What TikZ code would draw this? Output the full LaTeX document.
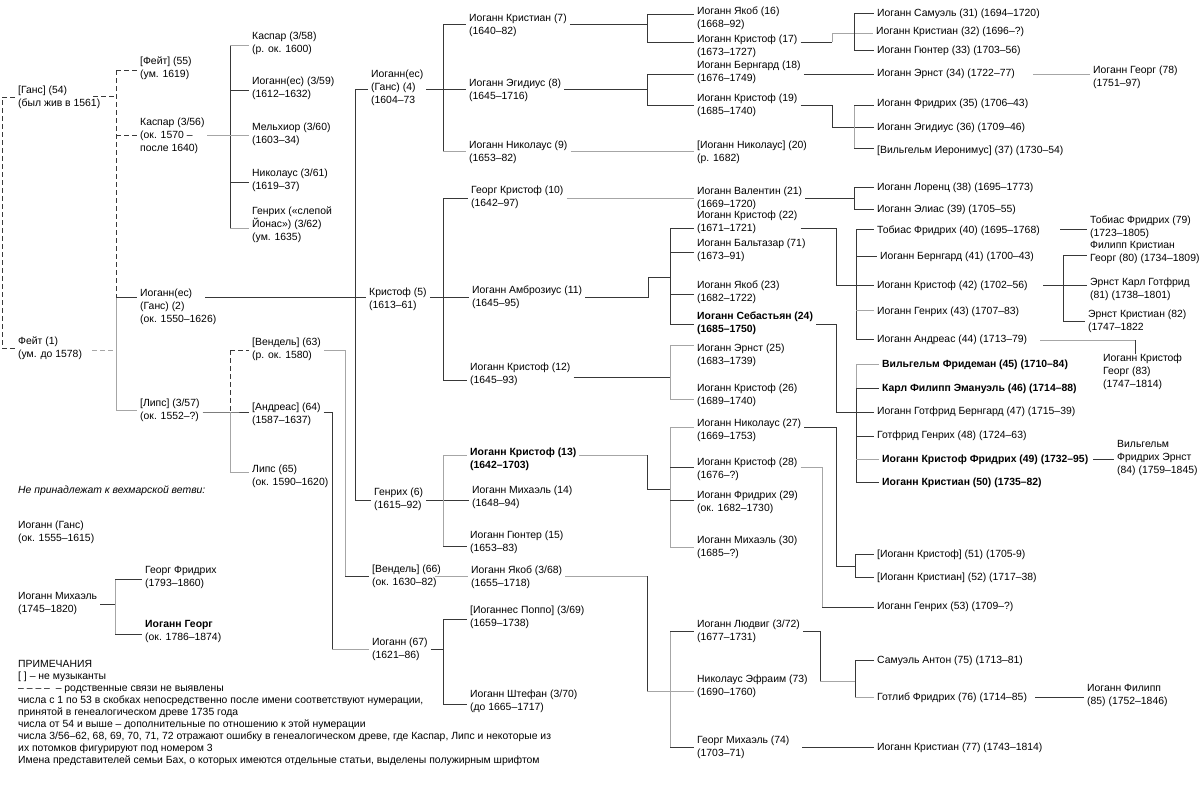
\documentclass[tikz,border=0pt]{standalone}
\usepackage{fontspec}
\setmainfont{Liberation Sans}
\usetikzlibrary{calc}
\begin{document}
\begin{tikzpicture}[x=1pt,y=-1pt,
  dk/.style={draw=black!78, line width=0.9pt},
  lt/.style={draw=black!35, line width=0.9pt},
  dsh/.style={dash pattern=on 5pt off 3pt},
  p/.style={anchor=north west, inner xsep=3pt, inner ysep=0pt, align=left, xshift=-3pt, yshift=6.5pt,
    font=\fontsize{10.4}{13}\selectfont, execute at begin node={\rule{0pt}{10pt}}},
  b/.style={p, font=\fontsize{10.4}{13}\selectfont\bfseries}]
\useasboundingbox (0,0) rectangle (1200,785);
\fill[white] (0,0) rectangle (1200,785);

% ---------- nodes ----------
\node[p] (n54) at (18,92) {[Ганс] (54)\\(был жив в 1561)};
\node[p] (n1) at (18,343) {Фейт (1)\\(ум. до 1578)};

\node[p] (n55) at (140,63) {[Фейт] (55)\\(ум. 1619)};
\node[p] (n56) at (140,124) {Каспар (3/56)\\(ок. 1570 –\\после 1640)};
\node[p] (n2) at (140,295) {Иоганн(ес)\\(Ганс) (2)\\(ок. 1550–1626)};
\node[p] (n57) at (140,405) {[Липс] (3/57)\\(ок. 1552–?)};

\node[p] (n58) at (252,38) {Каспар (3/58)\\(р. ок. 1600)};
\node[p] (n59) at (252,83) {Иоганн(ес) (3/59)\\(1612–1632)};
\node[p] (n60) at (252,129) {Мельхиор (3/60)\\(1603–34)};
\node[p] (n61) at (252,175) {Николаус (3/61)\\(1619–37)};
\node[p] (n62) at (252,213) {Генрих («слепой\\Йонас») (3/62)\\(ум. 1635)};
\node[p] (n63) at (252,344) {[Вендель] (63)\\(р. ок. 1580)};
\node[p] (n64) at (252,409) {[Андреас] (64)\\(1587–1637)};
\node[p] (n65) at (252,471) {Липс (65)\\(ок. 1590–1620)};

\node[p] (n4) at (371,76) {Иоганн(ес)\\(Ганс) (4)\\(1604–73};
\node[p] (n5) at (369,294) {Кристоф (5)\\(1613–61)};
\node[p] (n6) at (374,494) {Генрих (6)\\(1615–92)};
\node[p] (n66) at (372,571) {[Вендель] (66)\\(ок. 1630–82)};
\node[p] (n67) at (372,644) {Иоганн (67)\\(1621–86)};

\node[p] (n7) at (469,20) {Иоганн Кристиан (7)\\(1640–82)};
\node[p] (n8) at (469,85) {Иоганн Эгидиус (8)\\(1645–1716)};
\node[p] (n9) at (469,147) {Иоганн Николаус (9)\\(1653–82)};
\node[p] (n10) at (471,192) {Георг Кристоф (10)\\(1642–97)};
\node[p] (n11) at (472,292) {Иоганн Амброзиус (11)\\(1645–95)};
\node[p] (n12) at (470,369) {Иоганн Кристоф (12)\\(1645–93)};
\node[b] (n13) at (470,454) {Иоганн Кристоф (13)\\(1642–1703)};
\node[p] (n14) at (472,492) {Иоганн Михаэль (14)\\(1648–94)};
\node[p] (n15) at (470,537) {Иоганн Гюнтер (15)\\(1653–83)};
\node[p] (n68) at (471,572) {Иоганн Якоб (3/68)\\(1655–1718)};
\node[p] (n69) at (470,612) {[Иоганнес Поппо] (3/69)\\(1659–1738)};
\node[p] (n70) at (470,696) {Иоганн Штефан (3/70)\\(до 1665–1717)};

\node[p] (n16) at (697,13) {Иоганн Якоб (16)\\(1668–92)};
\node[p] (n17) at (697,41) {Иоганн Кристоф (17)\\(1673–1727)};
\node[p] (n18) at (697,67) {Иоганн Бернгард (18)\\(1676–1749)};
\node[p] (n19) at (697,100) {Иоганн Кристоф (19)\\(1685–1740)};
\node[p] (n20) at (697,147) {[Иоганн Николаус] (20)\\(р. 1682)};
\node[p] (n21) at (697,193) {Иоганн Валентин (21)\\(1669–1720)};
\node[p] (n22) at (697,217) {Иоганн Кристоф (22)\\(1671–1721)};
\node[p] (n71) at (697,245) {Иоганн Бальтазар (71)\\(1673–91)};
\node[p] (n23) at (697,287) {Иоганн Якоб (23)\\(1682–1722)};
\node[b] (n24) at (697,318) {Иоганн Себастьян (24)\\(1685–1750)};
\node[p] (n25) at (697,350) {Иоганн Эрнст (25)\\(1683–1739)};
\node[p] (n26) at (697,390) {Иоганн Кристоф (26)\\(1689–1740)};
\node[p] (n27) at (697,425) {Иоганн Николаус (27)\\(1669–1753)};
\node[p] (n28) at (697,464) {Иоганн Кристоф (28)\\(1676–?)};
\node[p] (n29) at (697,497) {Иоганн Фридрих (29)\\(ок. 1682–1730)};
\node[p] (n30) at (697,542) {Иоганн Михаэль (30)\\(1685–?)};
\node[p] (n72) at (697,626) {Иоганн Людвиг (3/72)\\(1677–1731)};
\node[p] (n73) at (697,681) {Николаус Эфраим (73)\\(1690–1760)};
\node[p] (n74) at (697,742) {Георг Михаэль (74)\\(1703–71)};

\node[p] (n31) at (877,13) {Иоганн Самуэль (31) (1694–1720)};
\node[p] (n32) at (876,31) {Иоганн Кристиан (32) (1696–?)};
\node[p] (n33) at (877,50) {Иоганн Гюнтер (33) (1703–56)};
\node[p] (n34) at (877,73) {Иоганн Эрнст (34) (1722–77)};
\node[p] (n35) at (877,103) {Иоганн Фридрих (35) (1706–43)};
\node[p] (n36) at (877,127) {Иоганн Эгидиус (36) (1709–46)};
\node[p] (n37) at (877,150) {[Вильгельм Иеронимус] (37) (1730–54)};
\node[p] (n38) at (877,187) {Иоганн Лоренц (38) (1695–1773)};
\node[p] (n39) at (877,209) {Иоганн Элиас (39) (1705–55)};
\node[p] (n40) at (877,230) {Тобиас Фридрих (40) (1695–1768)};
\node[p] (n41) at (880,256) {Иоганн Бернгард (41) (1700–43)};
\node[p] (n42) at (877,285) {Иоганн Кристоф (42) (1702–56)};
\node[p] (n43) at (877,311) {Иоганн Генрих (43) (1707–83)};
\node[p] (n44) at (877,339) {Иоганн Андреас (44) (1713–79)};
\node[b] (n45) at (882,364) {Вильгельм Фридеман (45) (1710–84)};
\node[b] (n46) at (882,388) {Карл Филипп Эмануэль (46) (1714–88)};
\node[p] (n47) at (877,411) {Иоганн Готфрид Бернгард (47) (1715–39)};
\node[p] (n48) at (877,435) {Готфрид Генрих (48) (1724–63)};
\node[b] (n49) at (882,459) {Иоганн Кристоф Фридрих (49) (1732–95)};
\node[b] (n50) at (882,482) {Иоганн Кристиан (50) (1735–82)};
\node[p] (n51) at (877,554) {[Иоганн Кристоф] (51) (1705-9)};
\node[p] (n52) at (877,577) {[Иоганн Кристиан] (52) (1717–38)};
\node[p] (n53) at (877,606) {Иоганн Генрих (53) (1709–?)};
\node[p] (n75) at (877,660) {Самуэль Антон (75) (1713–81)};
\node[p] (n76) at (877,697) {Готлиб Фридрих (76) (1714–85)};
\node[p] (n77) at (877,747) {Иоганн Кристиан (77) (1743–1814)};

\node[p] (n78) at (1093,72) {Иоганн Георг (78)\\(1751–97)};
\node[p] (n79) at (1090,222) {Тобиас Фридрих (79)\\(1723–1805)};
\node[p] (n80) at (1090,248) {Филипп Кристиан\\Георг (80) (1734–1809)};
\node[p] (n81) at (1090,284) {Эрнст Карл Готфрид\\(81) (1738–1801)};
\node[p] (n82) at (1088,316) {Эрнст Кристиан (82)\\(1747–1822};
\node[p] (n83) at (1103,360) {Иоганн Кристоф\\Георг (83)\\(1747–1814)};
\node[p] (n84) at (1117,447) {Вильгельм\\Фридрих Эрнст\\(84) (1759–1845)};
\node[p] (n85) at (1087,691) {Иоганн Филипп\\(85) (1752–1846)};

\node[p, font=\fontsize{10.4}{13}\selectfont\itshape] (nb) at (18,490) {Не принадлежат к вехмарской ветви:};
\node[p] (nJG) at (18,527) {Иоганн (Ганс)\\(ок. 1555–1615)};
\node[p] (nM) at (18,599) {Иоганн Михаэль\\(1745–1820)};
\node[p] (nGF) at (145,573) {Георг Фридрих\\(1793–1860)};
\node[p] (nIG) at (145,627) {\textbf{Иоганн Георг}\\(ок. 1786–1874)};

\node[p, font=\fontsize{10.4}{12}\selectfont] (notes) at (18,667) {ПРИМЕЧАНИЯ\\{}[ ] – не музыканты\\– – – – \ – родственные связи не выявлены\\числа с 1 по 53 в скобках непосредственно после имени соответствуют нумерации,\\принятой в генеалогическом древе 1735 года\\числа от 54 и выше – дополнительные по отношению к этой нумерации\\числа 3/56–62, 68, 69, 70, 71, 72 отражают ошибку в генеалогическом древе, где Каспар, Липс и некоторые из\\их потомков фигурируют под номером 3\\Имена представителей семьи Бах, о которых имеются отдельные статьи, выделены полужирным шрифтом};

% ---------- connectors ----------
\coordinate (L) at (2,0);
\draw[dk,dsh] (n54.west) -- (n54.west -| L) -- (n1.west -| L) -- (n1.west);

\draw[dk,dsh] (93,96) -- (116,96);
\draw[dk,dsh] (116,70) -- (116,297);
\draw[lt] (116,297) -- (116,410);
\draw[dk,dsh] (116,70) -- (n55.west |- 0,70);
\draw[dk,dsh] (116,135) -- (n56.west |- 0,135);
\draw[dk] (116,297) -- (n2.west |- 0,297);
\draw[lt] (116,410) -- (n57.west |- 0,410);
\draw[lt,dsh] (92,350) -- (116,350);

\draw[lt] (207,135) -- (230,135);
\draw[dk] (230,45) -- (230,228);
\draw[lt] (230,45) -- (n58.west |- 0,45);
\draw[dk] (230,90) -- (n59.west |- 0,90);
\draw[lt] (230,135) -- (n60.west |- 0,135);
\draw[dk] (230,182) -- (n61.west |- 0,182);
\draw[lt] (230,228) -- (n62.west |- 0,228);

\draw[dk] (n57.east |- 0,412) -- (230,412) -- (n64.west |- 0,412);
\draw[dk,dsh] (230,350) -- (230,412);
\draw[lt] (230,412) -- (230,472);
\draw[dk,dsh] (230,350) -- (n63.west |- 0,350);
\draw[lt] (230,472) -- (n65.west |- 0,472);

\draw[lt] (n63.east |- 0,350) -- (345,350) -- (345,576);
\draw[dk] (345,576) -- (n66.west |- 0,576);
\draw[dk] (n64.east |- 0,412) -- (332,412) -- (332,649);
\draw[lt] (332,649) -- (n67.west |- 0,649);

\draw[dk] (355,89) -- (355,500);
\draw[dk] (355,89) -- (n4.west |- 0,89);
\draw[dk] (355,500) -- (n6.west |- 0,500);
\draw[dk] (205,297) -- (n5.west |- 0,297);

\draw[dk] (n4.east |- 0,89) -- (n8.west |- 0,89);
\draw[dk] (443,24) -- (443,151);
\draw[dk] (443,24) -- (n7.west |- 0,24);
\draw[lt] (443,151) -- (n9.west |- 0,151);

\draw[dk] (n5.east |- 0,297) -- (n11.west |- 0,297);
\draw[dk] (443,198) -- (443,380);
\draw[dk] (443,198) -- (n10.west |- 0,198);
\draw[dk] (443,380) -- (n12.west |- 0,380);

\draw[dk] (n6.east |- 0,500) -- (n14.west |- 0,500);
\draw[lt] (443,455) -- (443,546);
\draw[lt] (443,455) -- (n13.west |- 0,455);
\draw[dk] (443,546) -- (n15.west |- 0,546);

\draw[lt] (435,576) -- (n68.west |- 0,576);

\draw[dk] (n67.east |- 0,649) -- (443,649);
\draw[dk] (443,619) -- (443,704);
\draw[dk] (443,619) -- (n69.west |- 0,619);
\draw[dk] (443,704) -- (n70.west |- 0,704);

\draw[dk] (n7.east |- 0,24) -- (647,24);
\draw[dk] (647,14) -- (647,42);
\draw[dk] (647,14) -- (n16.west |- 0,14);
\draw[dk] (647,42) -- (n17.west |- 0,42);

\draw[dk] (n8.east |- 0,89) -- (647,89);
\draw[dk] (647,74) -- (647,105);
\draw[dk] (647,74) -- (n18.west |- 0,74);
\draw[dk] (647,105) -- (n19.west |- 0,105);

\draw[lt] (n9.east |- 0,151) -- (n20.west |- 0,151);
\draw[lt] (n10.east |- 0,198) -- (n21.west |- 0,198);

\draw[dk] (n11.east |- 0,297) -- (648,297) -- (648,277) -- (670,277);
\draw[dk] (670,228) -- (670,324);
\draw[dk] (670,228) -- (n22.west |- 0,228);
\draw[dk] (670,252) -- (n71.west |- 0,252);
\draw[dk] (670,294) -- (n23.west |- 0,294);
\draw[dk] (670,324) -- (n24.west |- 0,324);

\draw[dk] (n12.east |- 0,377) -- (670,377);
\draw[lt] (670,345) -- (670,399);
\draw[lt] (670,345) -- (n25.west |- 0,345);
\draw[lt] (670,399) -- (n26.west |- 0,399);

\draw[lt] (n13.east |- 0,455) -- (647,455);
\draw[dk] (647,455) -- (647,489) -- (670,489);
\draw[lt] (670,427) -- (670,547);
\draw[lt] (670,427) -- (n27.west |- 0,427);
\draw[dk] (670,467) -- (n28.west |- 0,467);
\draw[dk] (670,500) -- (n29.west |- 0,500);
\draw[lt] (670,547) -- (n30.west |- 0,547);

\draw[lt] (n68.east |- 0,576) -- (647,576);
\draw[dk] (647,576) -- (647,691);
\draw[lt] (647,691) -- (670,691);
\draw[lt] (670,631) -- (670,747);
\draw[dk] (670,631) -- (n72.west |- 0,631);
\draw[lt] (670,691) -- (n73.west |- 0,691);
\draw[dk] (670,747) -- (n74.west |- 0,747);

\draw[dk] (n17.east |- 0,42) -- (832,42);
\draw[lt] (832,42) -- (832,33) -- (n32.west |- 0,33);
\draw[dk] (854,13) -- (854,50);
\draw[dk] (854,13) -- (n31.west |- 0,13);
\draw[dk] (854,50) -- (n33.west |- 0,50);

\draw[dk] (n18.east |- 0,74) -- (n34.west |- 0,74);

\draw[dk] (n19.east |- 0,105) -- (832,105) -- (832,127) -- (n36.west |- 0,127);
\draw[lt] (854,105) -- (854,148);
\draw[dk] (854,105) -- (n35.west |- 0,105);
\draw[dk] (854,148) -- (n37.west |- 0,148);

\draw[dk] (n21.east |- 0,198) -- (854,198);
\draw[dk] (854,187) -- (854,209);
\draw[dk] (854,187) -- (n38.west |- 0,187);
\draw[dk] (854,209) -- (n39.west |- 0,209);

\draw[dk] (n22.east |- 0,228) -- (836,228) -- (836,285) -- (856,285);
\draw[dk] (856,229) -- (856,339);
\draw[dk] (856,229) -- (n40.west |- 0,229);
\draw[dk] (856,256) -- (n41.west |- 0,256);
\draw[dk] (856,285) -- (n42.west |- 0,285);
\draw[lt] (856,310) -- (n43.west |- 0,310);
\draw[dk] (856,339) -- (n44.west |- 0,339);

\draw[dk] (n24.east |- 0,324) -- (836,324) -- (836,412) -- (n47.west |- 0,412);
\draw[lt] (856,364) -- (856,388);
\draw[dk] (856,388) -- (856,482);
\draw[lt] (856,364) -- (n45.west |- 0,364);
\draw[dk] (856,388) -- (n46.west |- 0,388);
\draw[dk] (856,436) -- (n48.west |- 0,436);
\draw[lt] (856,459) -- (n49.west |- 0,459);
\draw[dk] (856,482) -- (n50.west |- 0,482);

\draw[dk] (n27.east |- 0,427) -- (836,427) -- (836,566) -- (855,566);
\draw[dk] (855,554) -- (855,577);
\draw[dk] (855,554) -- (n51.west |- 0,554);
\draw[dk] (855,577) -- (n52.west |- 0,577);

\draw[lt] (n28.east |- 0,467) -- (822,467) -- (822,607);
\draw[dk] (822,607) -- (n53.west |- 0,607);

\draw[dk] (n72.east |- 0,631) -- (820,631) -- (820,681);
\draw[lt] (820,681) -- (855,681);
\draw[dk] (855,660) -- (855,697);
\draw[dk] (855,660) -- (n75.west |- 0,660);
\draw[lt] (855,697) -- (n76.west |- 0,697);

\draw[dk] (802,747) -- (n77.west |- 0,747);

\draw[lt] (1033,74) -- (n78.west |- 0,74);
\draw[dk] (1060,229) -- (n79.west |- 0,229);
\draw[dk] (1043,285) -- (1063,285);
\draw[dk] (1063,255) -- (1063,321);
\draw[dk] (1063,255) -- (n80.west |- 0,255);
\draw[dk] (1063,285) -- (n81.west |- 0,285);
\draw[dk] (1063,321) -- (n82.west |- 0,321);
\draw[lt] (1040,340) -- (1135,340);
\draw[dk] (1135,340) -- (n83.north west -| 1135,0);
\draw[dk] (1093,459) -- (n84.west |- 0,459);
\draw[dk] (1035,697) -- (n85.west |- 0,697);

\draw[dk] (nM.east |- 0,604) -- (115,604);
\draw[lt] (115,579) -- (115,634);
\draw[dk] (115,579) -- (nGF.west |- 0,579);
\draw[dk] (115,634) -- (nIG.west |- 0,634);
\end{tikzpicture}
\end{document}
